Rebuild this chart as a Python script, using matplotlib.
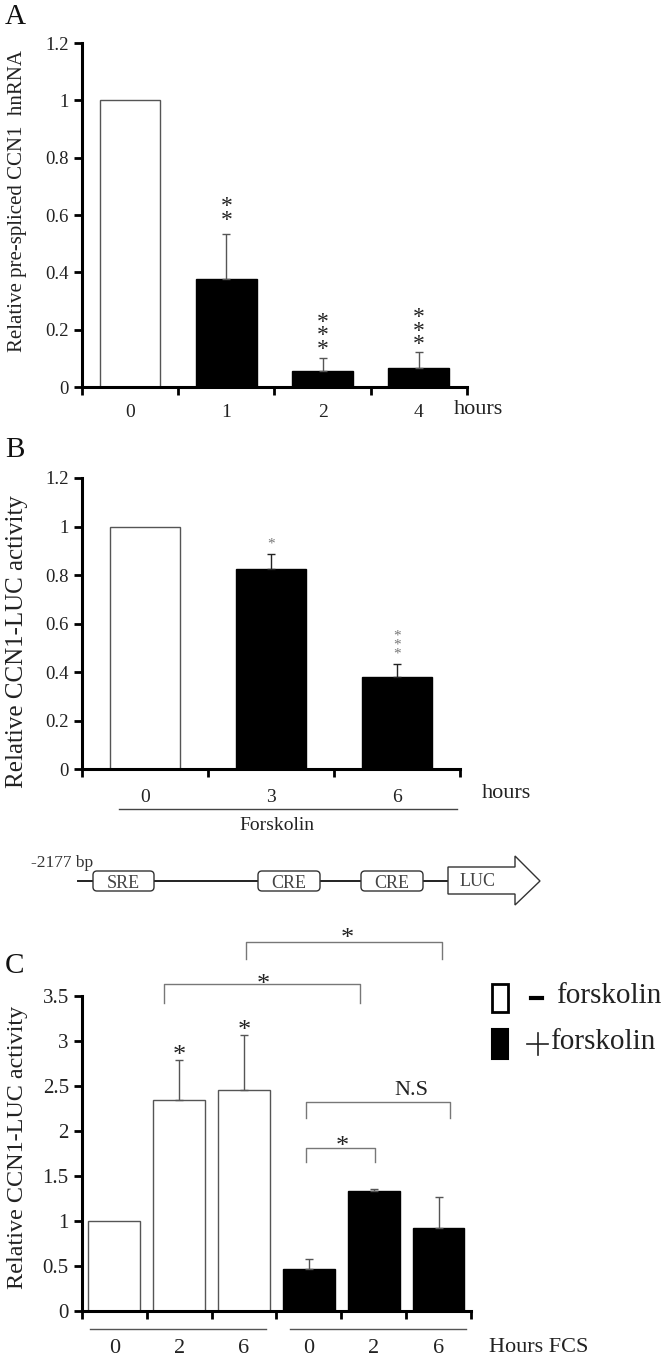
import numpy as np
import matplotlib
matplotlib.use('Agg')
import matplotlib.pyplot as plt
from matplotlib.patches import FancyBboxPatch, Polygon
from matplotlib.ticker import FuncFormatter
from matplotlib.transforms import offset_copy

plt.rcParams['font.family'] = ['Liberation Serif', 'DejaVu Serif']

# panel A data
a_labels = ['0', '1', '2', '4']
a_vals = [1.0, 0.377, 0.056, 0.066]
a_err = [0.0, 0.158, 0.044, 0.056]
a_fill = ['white', 'black', 'black', 'black']
a_stars = ['', '**', '***', '***']
a_star_y = [0, 0.607, 0.157, 0.174]

# panel B data
b_labels = ['0', '3', '6']
b_vals = [1.0, 0.824, 0.38]
b_err = [0.0, 0.064, 0.056]
b_fill = ['white', 'black', 'black']
b_stars = ['', '*', '***']
b_star_y = [0, 0.947, 0.495]

# panel C data
c_labels = ['0', '2', '6', '0', '2', '6']
c_vals = [1.0, 2.34, 2.46, 0.47, 1.33, 0.92]
c_err = [0.0, 0.45, 0.61, 0.11, 0.03, 0.35]
c_fill = ['white', 'white', 'white', 'black', 'black', 'black']
c_stars = ['', '*', '*', '', '', '']

fig = plt.figure(figsize=(6.66, 13.59), dpi=100)

def fmt(v, pos):
    return '%g' % round(v, 2)

def setup(ax, labels, ymax, ystep, ysize, xsize):
    n = len(labels)
    ax.set_xlim(-0.5, n - 0.5)
    ax.set_ylim(0, ymax)
    ax.set_yticks(np.arange(0, ymax + 1e-9, ystep))
    ax.yaxis.set_major_formatter(FuncFormatter(fmt))
    ax.set_xticks(np.arange(n))
    ax.set_xticklabels(labels, fontsize=xsize, color='#222222')
    ax.set_xticks(np.arange(n + 1) - 0.5, minor=True)
    ax.tick_params(axis='x', which='major', length=0, pad=12)
    ax.tick_params(axis='x', which='minor', length=6, width=2, direction='out')
    ax.tick_params(axis='y', length=6, width=2, direction='out', labelsize=ysize,
                   labelcolor='#222222')
    for s in ['top', 'right']:
        ax.spines[s].set_visible(False)
    for s in ['left', 'bottom']:
        ax.spines[s].set_linewidth(2.2)

def bars(ax, vals, err, fill, width, ecol='#555555'):
    x = np.arange(len(vals))
    ax.bar(x, vals, width, color=fill, edgecolor=['#555555' if f == 'white' else 'black' for f in fill],
           linewidth=1.0, zorder=2)
    for i in range(len(vals)):
        if err[i] > 0:
            ax.errorbar(x[i], vals[i], yerr=[[0], [err[i]]], fmt='none', ecolor=ecol,
                        elinewidth=1.0, capsize=3, capthick=1.0, zorder=3)

def stars(ax, x, y, s, size, color, spacing=0.55):
    # y is where the centre of the lowest asterisk should sit
    tr = offset_copy(ax.transData, fig=fig, y=-0.56 * size, units='points')
    ax.text(x, y, '\n'.join(s), transform=tr, ha='center', va='baseline',
            fontsize=size, color=color, linespacing=spacing, clip_on=False)

# ---------------- A ----------------
axA = fig.add_axes([0.1231, 0.7152, 0.578, 0.2531])
setup(axA, a_labels, 1.2, 0.2, 13.5, 14)
bars(axA, a_vals, a_err, a_fill, 0.63)
axA.set_ylabel('Relative pre-spliced CCN1  hnRNA', fontsize=15, color='#222222')
axA.yaxis.set_label_coords(-0.143, 0.54)
for i in range(len(a_vals)):
    if a_stars[i]:
        stars(axA, i, a_star_y[i], a_stars[i], 17, '#222222')
axA.text(3.36, -0.077, 'hours', ha='left', va='center', fontsize=16, color='#222222',
         clip_on=False)

# ---------------- B ----------------
axB = fig.add_axes([0.1231, 0.4338, 0.5676, 0.2145])
setup(axB, b_labels, 1.2, 0.2, 13.5, 14)
bars(axB, b_vals, b_err, b_fill, 0.56, ecol='#222222')
axB.set_ylabel('Relative CCN1-LUC activity', fontsize=18, color='#222222')
axB.yaxis.set_label_coords(-0.143, 0.44)
axB.xaxis.set_tick_params(pad=14)
for i in range(len(b_vals)):
    if b_stars[i]:
        stars(axB, i, b_star_y[i], b_stars[i], 11, '#777777', spacing=0.6)
axB.plot([-0.21, 2.48], [-0.162, -0.162], color='#444444', lw=1.0, clip_on=False)
axB.text(1.05, -0.232, 'Forskolin', ha='center', va='center', fontsize=14,
         color='#222222', clip_on=False)
axB.text(2.67, -0.097, 'hours', ha='left', va='center', fontsize=16, color='#222222',
         clip_on=False)

# ---------------- C ----------------
axC = fig.add_axes([0.1231, 0.0353, 0.584, 0.2318])
setup(axC, c_labels, 3.5, 0.5, 15, 16)
axC.tick_params(axis='x', which='major', pad=20)
bars(axC, c_vals, c_err, c_fill, 0.8)
axC.set_ylabel('Relative CCN1-LUC activity', fontsize=17.4, color='#222222')
axC.yaxis.set_label_coords(-0.139, 0.52)
for i in range(len(c_vals)):
    if c_stars[i]:
        stars(axC, i, c_vals[i] + c_err[i] + 0.14, c_stars[i], 19, '#222222')

def bracket(ax, x0, x1, ytop, ybot, label, ly, lx, size=19):
    ax.plot([x0, x0, x1, x1], [ybot, ytop, ytop, ybot], color='#777777', lw=1.0,
            clip_on=False)
    if label == '*':
        stars(ax, lx, ly, label, size, '#222222')
    else:
        ax.text(lx, ly, label, ha='center', va='center', fontsize=size, color='#222222',
                clip_on=False)

bracket(axC, 2.03, 5.06, 4.10, 3.91, '*', 4.23, 3.59)
bracket(axC, 0.765, 3.79, 3.63, 3.42, '*', 3.72, 2.3)
bracket(axC, 2.96, 5.18, 2.32, 2.14, 'N.S', 2.45, 4.58, size=16)
bracket(axC, 2.96, 4.02, 1.81, 1.66, '*', 1.92, 3.51)
axC.plot([-0.38, 2.34], [-0.2, -0.2], color='#555555', lw=1.0, clip_on=False)
axC.plot([2.71, 5.43], [-0.2, -0.2], color='#555555', lw=1.0, clip_on=False)
axC.text(5.78, -0.41, 'Hours FCS', ha='left', va='center', fontsize=16,
         color='#222222', clip_on=False)

# ---------------- overlay: letters, promoter scheme, legend ----------------
ov = fig.add_axes([0, 0, 1, 1], zorder=5)
ov.set_xlim(0, 666)
ov.set_ylim(1359, 0)
ov.axis('off')
ov.patch.set_alpha(0)
for lab, (x, y) in zip(['A', 'B', 'C'], [(5, 17), (5, 450), (5, 966)]):
    ov.text(x, y, lab, fontsize=21, ha='left', va='center', color='#111111')

ov.plot([78, 448], [881, 881], color='#222222', lw=1.4)
for (x0, x1, name) in [(93, 154, 'SRE'), (258, 320, 'CRE'), (361, 423, 'CRE')]:
    ov.add_patch(FancyBboxPatch((x0, 871), x1 - x0, 20,
                                boxstyle='round,pad=0,rounding_size=4',
                                fc='white', ec='#333333', lw=1.0, zorder=3))
    ov.text((x0 + x1) / 2, 884, name, ha='center', va='center', fontsize=13,
            color='#444444', zorder=4)
ov.add_patch(Polygon([(448, 867), (515, 867), (515, 856), (540, 881), (515, 905),
                      (515, 894), (448, 894)], closed=True, fc='white',
                     ec='#333333', lw=1.0, zorder=3))
ov.text(478, 881, 'LUC', ha='center', va='center', fontsize=13, color='#444444', zorder=4)
ov.text(31, 863, '-2177 bp', ha='left', va='center', fontsize=12.5, color='#333333')

ov.add_patch(plt.Rectangle((492, 984), 16, 28, fc='white', ec='black', lw=2))
ov.add_patch(plt.Rectangle((492, 1029), 16, 30, fc='black', ec='black', lw=1.5))
ov.plot([531, 542], [998, 998], color='black', lw=3)
ov.text(556, 996, 'forskolin', ha='left', va='center', fontsize=21, color='#222222')
ov.plot([527, 548], [1044, 1044], color='#222222', lw=1.2)
ov.plot([537.5, 537.5], [1033, 1055], color='#222222', lw=1.2)
ov.text(550, 1042, 'forskolin', ha='left', va='center', fontsize=21, color='#222222')

fig.savefig('out.png', dpi=100)
